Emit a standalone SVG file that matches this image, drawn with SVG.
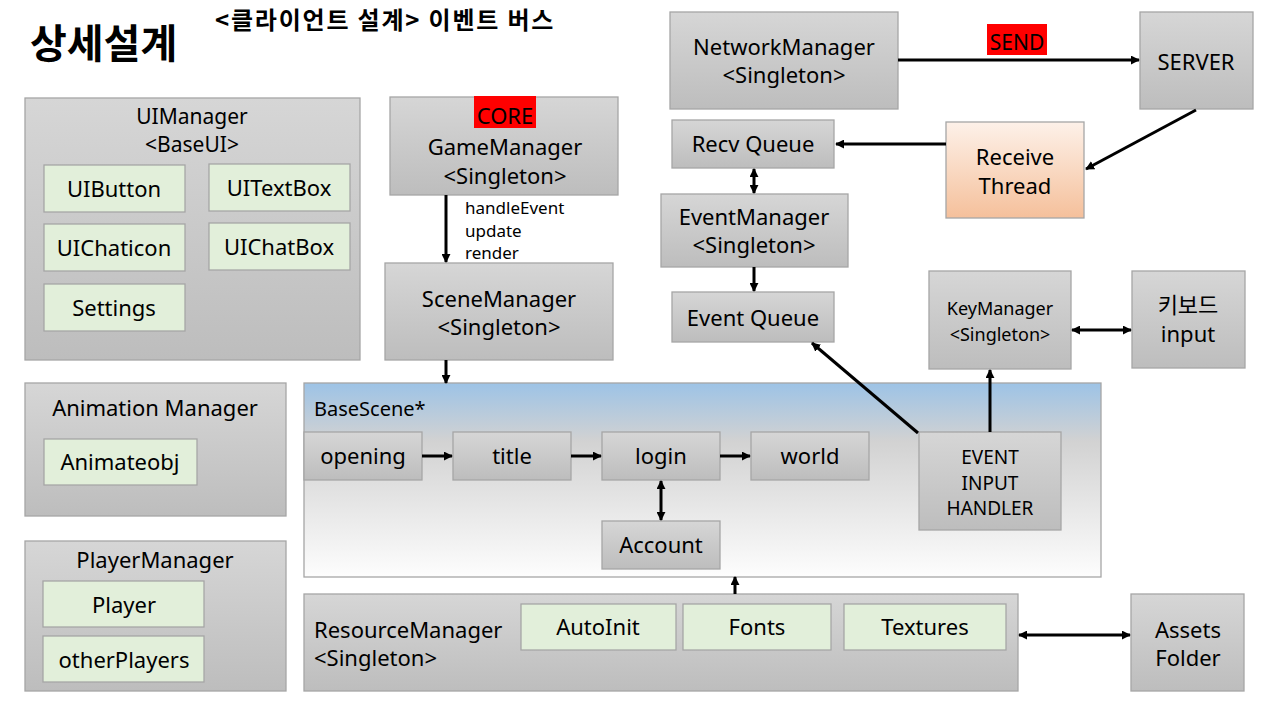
<svg xmlns="http://www.w3.org/2000/svg" width="1280" height="720" viewBox="0 0 1280 720">
<defs>
<linearGradient id="gray" x1="0" y1="0" x2="0" y2="1"><stop offset="0" stop-color="#d6d6d6"/><stop offset="1" stop-color="#bdbdbd"/></linearGradient>
<linearGradient id="blue" x1="0" y1="0" x2="0" y2="1"><stop offset="0" stop-color="#9dc3e6"/><stop offset="0.3" stop-color="#d2d2d2"/><stop offset="1" stop-color="#fdfdfd"/></linearGradient>
<linearGradient id="orange" x1="0" y1="0" x2="0" y2="1"><stop offset="0" stop-color="#fdf1e9"/><stop offset="1" stop-color="#f5c09b"/></linearGradient>
<marker id="ah" viewBox="0 0 10 10" refX="9" refY="5" markerWidth="9" markerHeight="9" markerUnits="userSpaceOnUse" orient="auto-start-reverse"><path d="M0,0 L10,5 L0,10 z" fill="#000"/></marker>
</defs>
<style>
text{font-family:"Noto Sans","Noto Sans CJK KR",sans-serif;fill:#000;}
.box{fill:url(#gray);stroke:#a6a6a6;stroke-width:1.3;}
.grn{fill:#e2efda;stroke:#a6a6a6;stroke-width:1.3;}
.t22{font-size:22px;text-anchor:middle;}
.t20{font-size:20px;text-anchor:middle;}
.t17{font-size:17px;}
.ln{stroke:#000;stroke-width:3;fill:none;}
.one{marker-end:url(#ah);}
.two{marker-start:url(#ah);marker-end:url(#ah);}
</style>
<rect width="1280" height="720" fill="#fff"/>
<text x="30" y="58" style="font-size:40px;font-weight:bold;font-family:'Noto Sans CJK KR',sans-serif">상세설계</text>
<text x="215" y="29" style="font-size:24px;font-weight:bold;letter-spacing:1.8px;font-family:'Noto Sans CJK KR',sans-serif">&lt;클라이언트 설계&gt; 이벤트 버스</text>

<g id="uimanager">
<rect class="box" x="25" y="98" width="335" height="262"/>
<text class="t22" x="192" y="124" style="font-size:21px">UIManager</text>
<text class="t22" x="192" y="152" style="font-size:21px">&lt;BaseUI&gt;</text>
</g>
<g id="uibutton"><rect class="grn" x="44" y="165" width="141" height="47"/><text class="t22" x="114" y="197">UIButton</text></g>
<g id="uitextbox"><rect class="grn" x="209" y="164" width="141" height="47"/><text class="t22" x="279" y="196">UITextBox</text></g>
<g id="uichaticon"><rect class="grn" x="44" y="224" width="141" height="47"/><text class="t22" x="114" y="256">UIChaticon</text></g>
<g id="uichatbox"><rect class="grn" x="209" y="223" width="141" height="47"/><text class="t22" x="279" y="255">UIChatBox</text></g>
<g id="settings"><rect class="grn" x="44" y="284" width="141" height="47"/><text class="t22" x="114" y="316">Settings</text></g>

<g id="gamemanager">
<rect class="box" x="390" y="97" width="228" height="98"/>
<rect x="474" y="96" width="62" height="32" fill="#ff0000"/>
<text class="t22" x="505" y="124">CORE</text>
<text class="t22" x="505" y="155">GameManager</text>
<text class="t22" x="505" y="184">&lt;Singleton&gt;</text>
</g>
<g id="scenemanager">
<rect class="box" x="385" y="263" width="228" height="97"/>
<text class="t22" x="499" y="307">SceneManager</text>
<text class="t22" x="499" y="335">&lt;Singleton&gt;</text>
</g>

<g id="animationmanager">
<rect class="box" x="25" y="383" width="261" height="133"/>
<text class="t22" x="155" y="416">Animation  Manager</text>
</g>
<g id="animateobj"><rect class="grn" x="44" y="439" width="153" height="46"/><text class="t22" x="120" y="470">Animateobj</text></g>

<g id="playermanager">
<rect class="box" x="25" y="541" width="261" height="150"/>
<text class="t22" x="155" y="568">PlayerManager</text>
</g>
<g id="player"><rect class="grn" x="43" y="581" width="161" height="46"/><text class="t22" x="124" y="613">Player</text></g>
<g id="otherplayers"><rect class="grn" x="43" y="636" width="161" height="46"/><text class="t22" x="124" y="668">otherPlayers</text></g>

<g id="basescene">
<rect x="304" y="383" width="797" height="194" fill="url(#blue)" stroke="#a6a6a6" stroke-width="1.3"/>
<text x="314" y="416" style="font-size:20px">BaseScene*</text>
</g>
<g id="opening"><rect class="box" x="304" y="432" width="118" height="48"/><text class="t22" x="363" y="464">opening</text></g>
<g id="title"><rect class="box" x="453" y="432" width="118" height="48"/><text class="t22" x="512" y="464">title</text></g>
<g id="login"><rect class="box" x="602" y="432" width="118" height="48"/><text class="t22" x="661" y="464">login</text></g>
<g id="world"><rect class="box" x="751" y="432" width="118" height="48"/><text class="t22" x="810" y="464">world</text></g>
<g id="account"><rect class="box" x="602" y="521" width="118" height="48"/><text class="t22" x="661" y="553">Account</text></g>
<g id="eventinputhandler">
<rect class="box" x="919" y="432" width="142" height="98"/>
<text class="t20" x="990" y="464" style="font-size:19px">EVENT</text>
<text class="t20" x="990" y="490" style="font-size:19px">INPUT</text>
<text class="t20" x="990" y="515" style="font-size:19px">HANDLER</text>
</g>

<g id="resourcemanager">
<rect class="box" x="304" y="594" width="714" height="97"/>
<text x="314" y="638" style="font-size:22px">ResourceManager</text>
<text x="314" y="666" style="font-size:22px">&lt;Singleton&gt;</text>
</g>
<g id="autoinit"><rect class="grn" x="521" y="604" width="155" height="46"/><text class="t22" x="598" y="635">AutoInit</text></g>
<g id="fonts"><rect class="grn" x="683" y="604" width="148" height="46"/><text class="t22" x="757" y="635">Fonts</text></g>
<g id="textures"><rect class="grn" x="844" y="604" width="162" height="46"/><text class="t22" x="925" y="635">Textures</text></g>
<g id="assetsfolder">
<rect class="box" x="1131" y="594" width="113" height="97"/>
<text class="t22" x="1188" y="638">Assets</text>
<text class="t22" x="1188" y="666">Folder</text>
</g>

<g id="networkmanager">
<rect class="box" x="670" y="12" width="228" height="97"/>
<text class="t22" x="784" y="55">NetworkManager</text>
<text class="t22" x="784" y="83">&lt;Singleton&gt;</text>
</g>
<g id="server">
<rect class="box" x="1140" y="12" width="113" height="97"/>
<text class="t22" x="1196" y="70">SERVER</text>
</g>
<g id="receivethread">
<rect x="946" y="122" width="138" height="96" fill="url(#orange)" stroke="#a6a6a6" stroke-width="1.3"/>
<text class="t22" x="1015" y="165">Receive</text>
<text class="t22" x="1015" y="194">Thread</text>
</g>
<g id="recvqueue"><rect class="box" x="672" y="120" width="162" height="48"/><text class="t22" x="753" y="152">Recv Queue</text></g>
<g id="eventmanager">
<rect class="box" x="661" y="194" width="187" height="73"/>
<text class="t22" x="754" y="225">EventManager</text>
<text class="t22" x="754" y="253">&lt;Singleton&gt;</text>
</g>
<g id="eventqueue"><rect class="box" x="672" y="292" width="162" height="50"/><text class="t22" x="753" y="326">Event Queue</text></g>
<g id="keymanager">
<rect class="box" x="929" y="271" width="142" height="98"/>
<text class="t20" x="1000" y="315" style="font-size:18px">KeyManager</text>
<text class="t20" x="1000" y="341" style="font-size:18px">&lt;Singleton&gt;</text>
</g>
<g id="keyboard">
<rect class="box" x="1132" y="271" width="113" height="97"/>
<text class="t22" x="1188" y="313" style="font-family:'Noto Sans CJK KR',sans-serif">키보드</text>
<text class="t22" x="1188" y="342">input</text>
</g>

<g id="connectors">
<line class="ln one" x1="446" y1="195" x2="446" y2="262"/>
<text class="t17" x="465" y="214">handleEvent</text>
<text class="t17" x="465" y="237">update</text>
<text class="t17" x="465" y="259">render</text>
<line class="ln one" x1="446" y1="360" x2="446" y2="383"/>
<line class="ln one" x1="422" y1="456" x2="452" y2="456"/>
<line class="ln one" x1="571" y1="456" x2="601" y2="456"/>
<line class="ln one" x1="720" y1="456" x2="750" y2="456"/>
<line class="ln two" x1="661" y1="481" x2="661" y2="520"/>
<line class="ln one" x1="735" y1="594" x2="735" y2="577"/>
<line class="ln two" x1="1019" y1="635" x2="1130" y2="635"/>
<line class="ln one" x1="898" y1="60" x2="1139" y2="60"/>
<rect x="987" y="24" width="60" height="31" fill="#ff0000"/>
<text x="1017" y="50" style="font-size:21px;text-anchor:middle">SEND</text>
<line class="ln one" x1="1196" y1="110" x2="1086" y2="169"/>
<line class="ln one" x1="946" y1="144" x2="836" y2="144"/>
<line class="ln two" x1="754" y1="169" x2="754" y2="193"/>
<line class="ln one" x1="754" y1="267" x2="754" y2="291"/>
<line class="ln one" x1="918" y1="433" x2="812" y2="343"/>
<line class="ln one" x1="990" y1="432" x2="990" y2="370"/>
<line class="ln two" x1="1072" y1="330" x2="1131" y2="330"/>
</g>
</svg>
